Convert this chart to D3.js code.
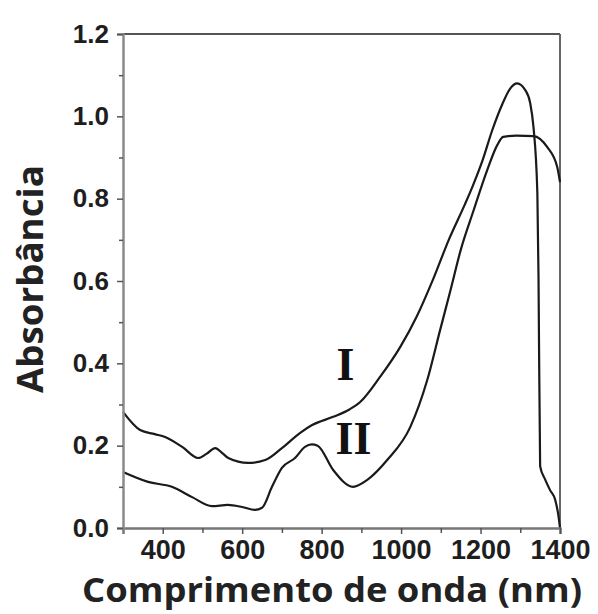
<!DOCTYPE html>
<html>
<head>
<meta charset="utf-8">
<script src="https://cdn.jsdelivr.net/npm/d3@7/dist/d3.min.js"></script>
<style>
  html, body { margin: 0; padding: 0; background: #fff; }
  svg { display: block; }
</style>
</head>
<body>
<svg id="chart" width="598" height="614"></svg>
<script>
// ---- data ----
const wavelengthI = [300, 343, 380, 406, 449, 489, 510, 532, 550, 565, 615, 658, 700, 746, 776, 829, 870, 897, 947, 998, 1040, 1081, 1120, 1160, 1180, 1205, 1229, 1255, 1275, 1292, 1313, 1325, 1333, 1343, 1346, 1350, 1363, 1375, 1388, 1396, 1400];
const absorbanceI = [0.282, 0.238, 0.228, 0.221, 0.197, 0.170, 0.180, 0.194, 0.182, 0.170, 0.158, 0.165, 0.194, 0.231, 0.250, 0.270, 0.288, 0.306, 0.367, 0.440, 0.515, 0.605, 0.700, 0.785, 0.830, 0.893, 0.965, 1.030, 1.068, 1.080, 1.063, 1.032, 0.976, 0.814, 0.600, 0.150, 0.117, 0.092, 0.068, 0.030, 0.000];

const wavelengthII = [300, 363, 423, 474, 524, 564, 600, 632, 650, 675, 700, 733, 758, 775, 790, 829, 879, 915, 965, 1023, 1066, 1098, 1125, 1150, 1182, 1217, 1242, 1257, 1290, 1333, 1368, 1393, 1400];
const absorbanceII = [0.136, 0.112, 0.100, 0.075, 0.053, 0.056, 0.051, 0.044, 0.049, 0.100, 0.146, 0.170, 0.197, 0.203, 0.200, 0.141, 0.100, 0.117, 0.165, 0.245, 0.360, 0.480, 0.580, 0.675, 0.770, 0.870, 0.930, 0.950, 0.953, 0.952, 0.925, 0.877, 0.840];

const xTicks = [400, 600, 800, 1000, 1200, 1400];
const xMinorTicks = [500, 700, 900, 1100, 1300];
const yTicks = [0.0, 0.2, 0.4, 0.6, 0.8, 1.0, 1.2];
const yMinorTicks = [0.1, 0.3, 0.5, 0.7, 0.9, 1.1];
const seriesLabels = [
  { name: "I", wl: 870, abs: 0.36 },
  { name: "II", wl: 890, abs: 0.18 }
];
const xTitle = "Comprimento de onda (nm)";
const yTitle = "Absorbância";

// ---- layout ----
const svg = d3.select("#chart");
const plot = { left: 123, right: 560, top: 34, bottom: 528 };

const x = d3.scaleLinear().domain([300, 1400]).range([plot.left, plot.right]);
const y = d3.scaleLinear().domain([0, 1.2]).range([plot.bottom, plot.top]);

// frame: top and right lines
svg.append("line").attr("x1", plot.left).attr("x2", plot.right)
  .attr("y1", plot.top).attr("y2", plot.top)
  .attr("stroke", "#555").attr("stroke-width", 2);
svg.append("line").attr("x1", plot.right).attr("x2", plot.right)
  .attr("y1", plot.top).attr("y2", plot.bottom)
  .attr("stroke", "#666").attr("stroke-width", 2);

// curves
const line = d3.line()
  .x(d => x(d[0]))
  .y(d => y(d[1]))
  .curve(d3.curveMonotoneX);

const dataI = wavelengthI.map((w, i) => [w, absorbanceI[i]]);
const dataII = wavelengthII.map((w, i) => [w, absorbanceII[i]]);

svg.append("path").datum(dataI).attr("d", line)
  .attr("fill", "none").attr("stroke", "#1a1a1a").attr("stroke-width", 2.2)
  .attr("stroke-linejoin", "round");
svg.append("path").datum(dataII).attr("d", line)
  .attr("fill", "none").attr("stroke", "#1a1a1a").attr("stroke-width", 2.2)
  .attr("stroke-linejoin", "round");

// axes
const xAxis = d3.axisBottom(x).tickValues(xTicks).tickFormat(d3.format("d"))
  .tickSize(6).tickPadding(6);
const gx = svg.append("g").attr("transform", `translate(0,${plot.bottom})`).call(xAxis);
gx.select(".domain").attr("stroke", "#777").attr("stroke-width", 2.5);
gx.selectAll(".tick line").attr("stroke", "#555").attr("stroke-width", 1.5);
gx.selectAll(".tick text")
  .attr("font-family", "'Liberation Sans', Arial, sans-serif")
  .attr("font-weight", "bold").attr("font-size", 27).attr("fill", "#1e1e1e")
  .attr("dy", "0.72em");

const xMinor = d3.axisBottom(x).tickValues(xMinorTicks).tickSize(5).tickFormat("");
const gxm = svg.append("g").attr("transform", `translate(0,${plot.bottom})`).call(xMinor);
gxm.select(".domain").remove();
gxm.selectAll(".tick line").attr("stroke", "#555").attr("stroke-width", 1.5);

const yAxis = d3.axisLeft(y).tickValues(yTicks).tickFormat(d3.format(".1f"))
  .tickSize(6).tickPadding(8);
const gy = svg.append("g").attr("transform", `translate(${plot.left},0)`).call(yAxis);
gy.select(".domain").attr("stroke", "#8a8a8a").attr("stroke-width", 2.5);
gy.selectAll(".tick line").attr("stroke", "#555").attr("stroke-width", 1.5);
gy.selectAll(".tick text")
  .attr("font-family", "'Liberation Sans', Arial, sans-serif")
  .attr("font-weight", "bold").attr("font-size", 26).attr("fill", "#1e1e1e");

const yMinor = d3.axisLeft(y).tickValues(yMinorTicks).tickSize(4).tickFormat("");
const gym = svg.append("g").attr("transform", `translate(${plot.left},0)`).call(yMinor);
gym.select(".domain").remove();
gym.selectAll(".tick line").attr("stroke", "#555").attr("stroke-width", 1.5);

// series labels (Roman numerals)
svg.selectAll("text.series").data(seriesLabels).enter().append("text")
  .attr("class", "series")
  .attr("x", d => x(d.wl) - 4)
  .attr("y", d => y(d.abs))
  .attr("text-anchor", "middle")
  .attr("font-family", "'Liberation Serif', 'Times New Roman', serif")
  .attr("font-weight", "bold").attr("font-size", 46).attr("fill", "#111")
  .text(d => d.name);

// axis titles
svg.append("text")
  .attr("x", 332).attr("y", 602)
  .attr("text-anchor", "middle")
  .attr("font-family", "'Open Sans', 'Noto Sans', sans-serif")
  .attr("font-weight", "bold").attr("font-size", 34).attr("fill", "#222")
  .attr("textLength", 500).attr("lengthAdjust", "spacingAndGlyphs")
  .text(xTitle);

svg.append("text")
  .attr("transform", "translate(43,279) rotate(-90)")
  .attr("text-anchor", "middle")
  .attr("font-family", "'Open Sans', 'Noto Sans', sans-serif")
  .attr("font-weight", "bold").attr("font-size", 36).attr("fill", "#222")
  .attr("textLength", 228).attr("lengthAdjust", "spacingAndGlyphs")
  .text(yTitle);
</script>
</body>
</html>
